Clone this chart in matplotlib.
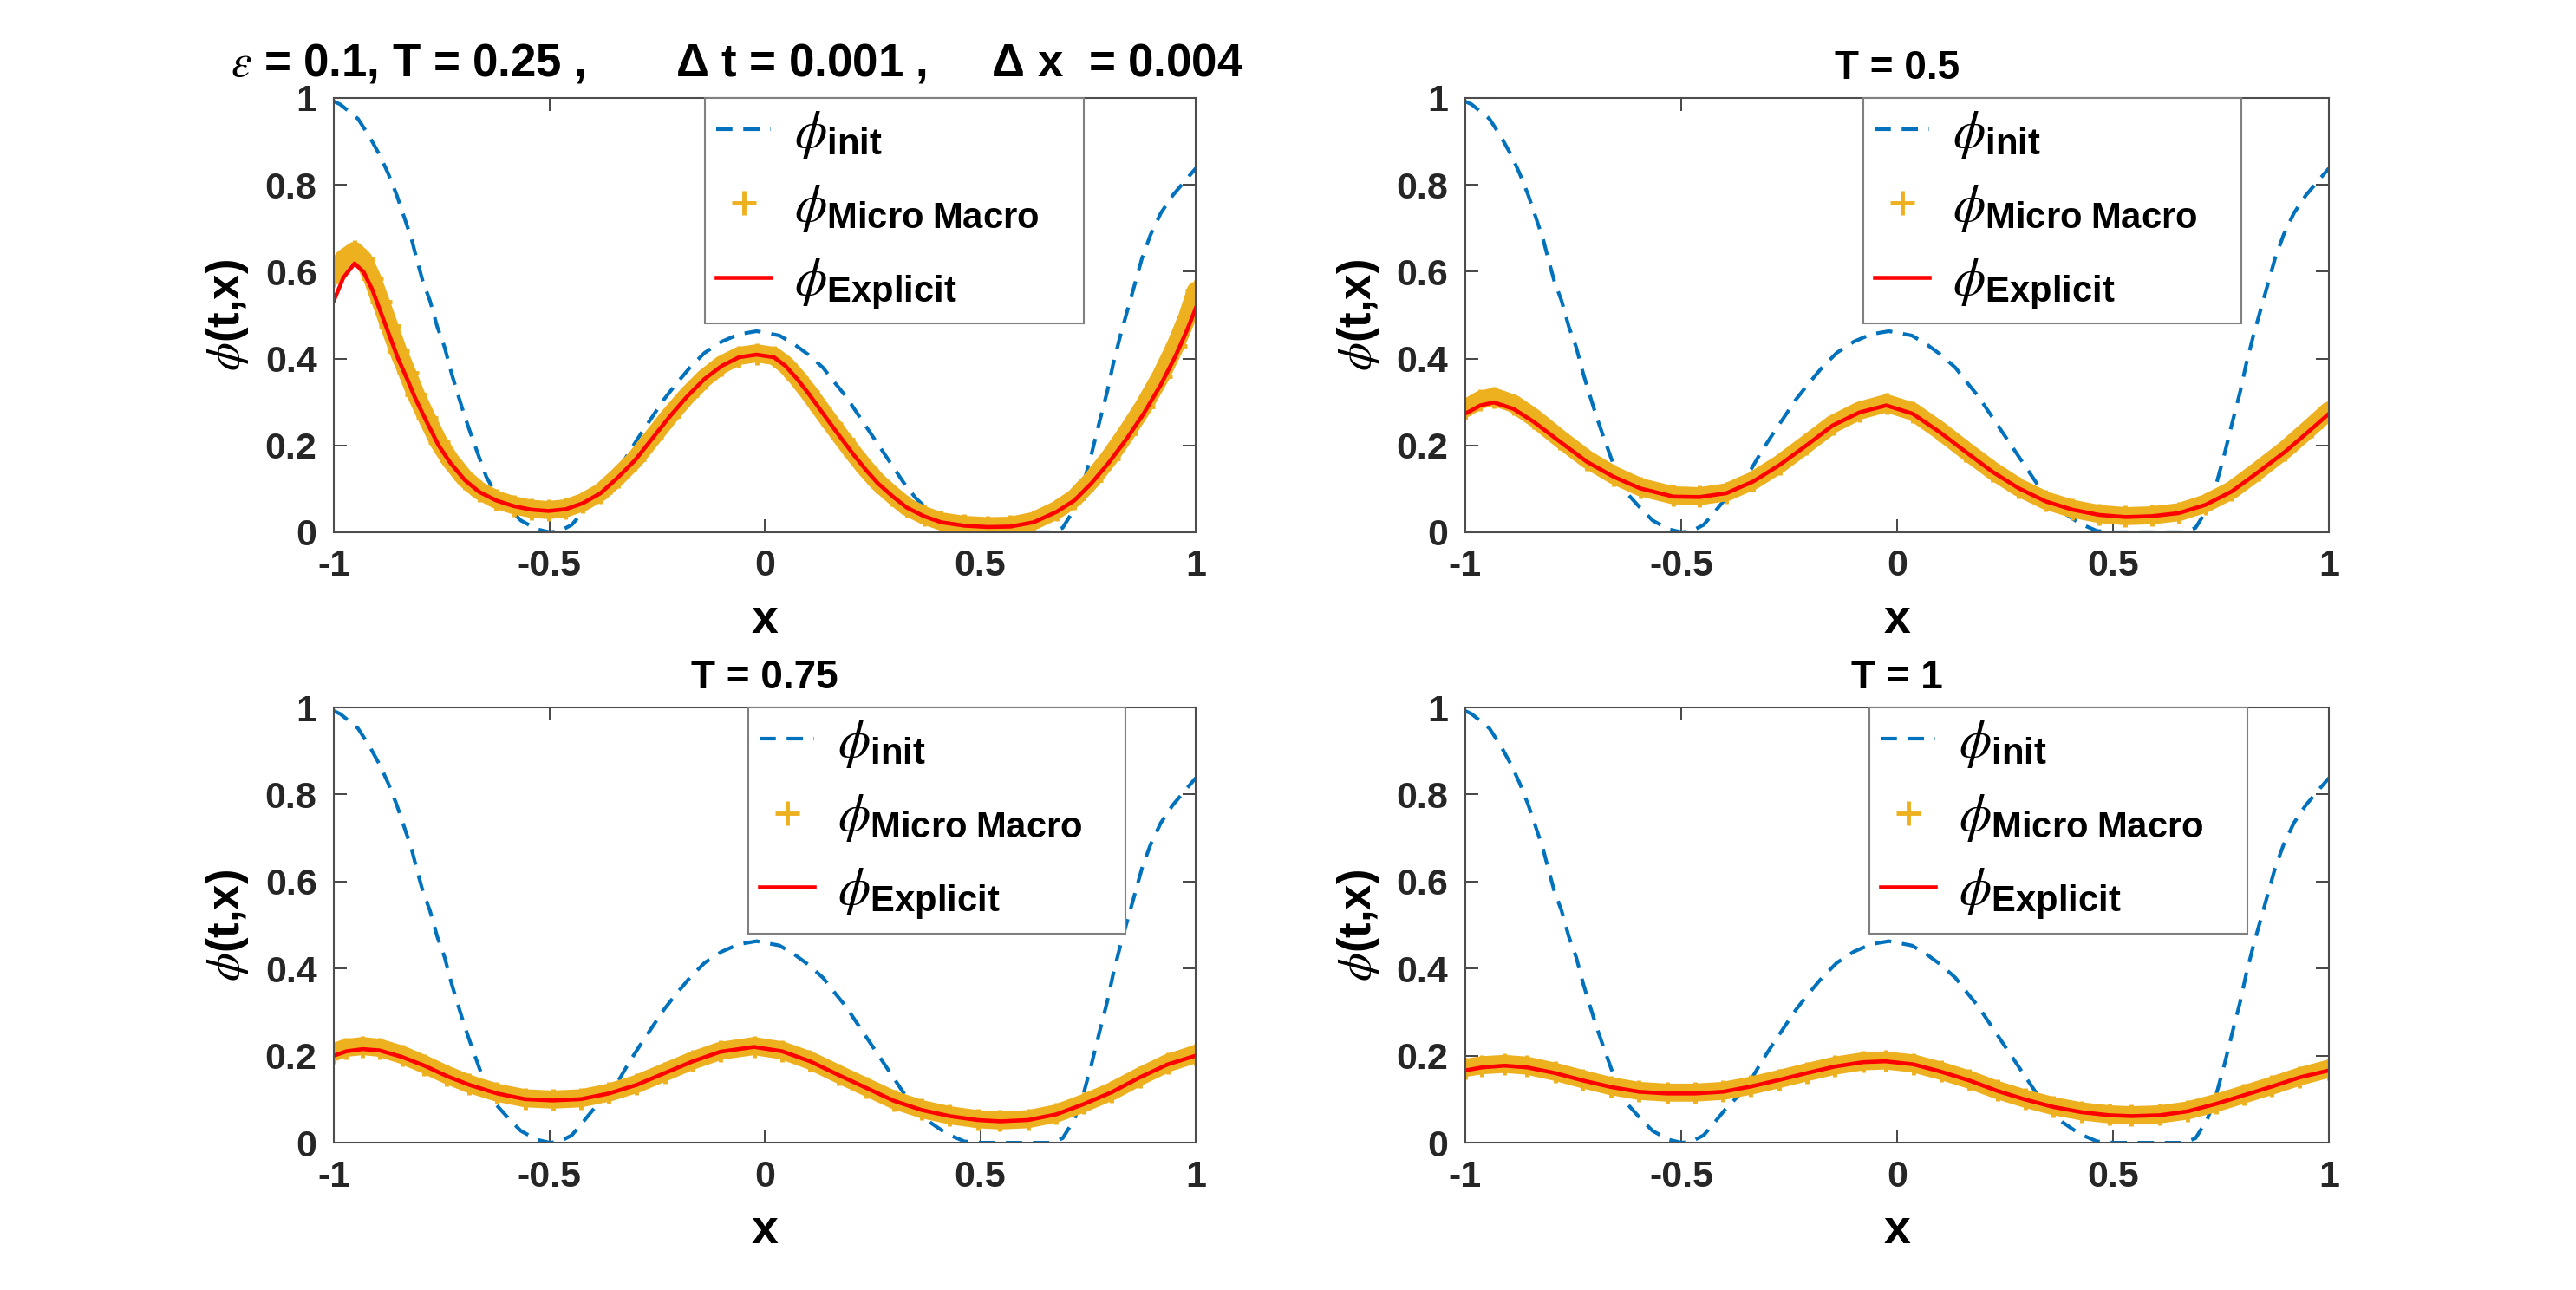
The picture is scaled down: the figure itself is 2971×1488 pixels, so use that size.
import matplotlib
matplotlib.use("Agg")
import matplotlib.pyplot as plt

plt.rcParams['font.family'] = ['Liberation Sans', 'DejaVu Sans']
plt.rcParams['axes.titleweight'] = 'bold'
plt.rcParams['axes.labelweight'] = 'bold'
plt.rcParams['mathtext.fontset'] = 'custom'
plt.rcParams['mathtext.rm'] = 'Liberation Sans:bold'
plt.rcParams['mathtext.bf'] = 'Liberation Sans:bold'
plt.rcParams['mathtext.it'] = 'STIXGeneral:italic'

# initial condition (same in every panel)
x_init = [-1.0, -0.985, -0.944, -0.918, -0.894, -0.874, -0.854, -0.837, -0.820, -0.807,
          -0.794, -0.777, -0.760, -0.743, -0.727, -0.713, -0.696, -0.680, -0.663, -0.646,
          -0.623, -0.592, -0.566, -0.529, -0.499, -0.475, -0.448, -0.428, -0.395, -0.368,
          -0.341, -0.314, -0.288, -0.261, -0.234, -0.207, -0.174, -0.140, -0.100, -0.060,
          -0.019, 0.034, 0.068, 0.101, 0.135, 0.161, 0.188, 0.215, 0.242, 0.269,
          0.296, 0.323, 0.349, 0.383, 0.423, 0.463, 0.503, 0.664, 0.691, 0.718,
          0.738, 0.758, 0.778, 0.795, 0.808, 0.825, 0.842, 0.859, 0.875, 0.895,
          0.919, 0.946, 0.980, 1.0]
y_init = [0.992, 0.985, 0.952, 0.912, 0.869, 0.826, 0.776, 0.726, 0.676, 0.626,
          0.579, 0.533, 0.473, 0.426, 0.366, 0.320, 0.266, 0.220, 0.173, 0.127,
          0.087, 0.053, 0.027, 0.007, 0.0, 0.003, 0.017, 0.040, 0.080, 0.107,
          0.140, 0.186, 0.226, 0.266, 0.306, 0.340, 0.379, 0.413, 0.439, 0.456,
          0.463, 0.453, 0.433, 0.409, 0.379, 0.346, 0.313, 0.273, 0.233, 0.193,
          0.153, 0.113, 0.080, 0.047, 0.020, 0.003, 0.0, 0.0, 0.010, 0.053,
          0.107, 0.180, 0.260, 0.326, 0.386, 0.453, 0.513, 0.573, 0.630, 0.685,
          0.735, 0.775, 0.815, 0.838]

# T = 0.25
x_t1 = [-1.0, -0.978, -0.952, -0.931, -0.911, -0.891, -0.871, -0.851, -0.830, -0.810,
        -0.784, -0.757, -0.730, -0.696, -0.663, -0.623, -0.582, -0.542, -0.502, -0.462,
        -0.422, -0.381, -0.341, -0.301, -0.261, -0.221, -0.180, -0.140, -0.100, -0.060,
        -0.019, 0.021, 0.048, 0.075, 0.101, 0.128, 0.155, 0.182, 0.208, 0.235,
        0.262, 0.296, 0.329, 0.369, 0.409, 0.463, 0.517, 0.570, 0.624, 0.677,
        0.718, 0.758, 0.798, 0.838, 0.879, 0.919, 0.953, 0.980, 1.0]
expl_t1 = [0.533, 0.586, 0.619, 0.599, 0.559, 0.506, 0.453, 0.400, 0.353, 0.306,
           0.253, 0.200, 0.160, 0.120, 0.093, 0.073, 0.060, 0.052, 0.049, 0.053,
           0.067, 0.090, 0.126, 0.166, 0.216, 0.266, 0.313, 0.353, 0.383, 0.403,
           0.409, 0.403, 0.383, 0.353, 0.320, 0.283, 0.246, 0.210, 0.176, 0.143,
           0.113, 0.083, 0.057, 0.037, 0.023, 0.015, 0.012, 0.013, 0.023, 0.047,
           0.073, 0.113, 0.160, 0.213, 0.273, 0.340, 0.406, 0.466, 0.516]
mm_t1 = [0.590, 0.630, 0.648, 0.628, 0.585, 0.530, 0.474, 0.418, 0.368, 0.318,
         0.263, 0.208, 0.166, 0.124, 0.096, 0.075, 0.062, 0.054, 0.051, 0.055,
         0.069, 0.092, 0.128, 0.168, 0.218, 0.268, 0.315, 0.355, 0.386, 0.406,
         0.412, 0.406, 0.386, 0.356, 0.323, 0.286, 0.249, 0.213, 0.179, 0.146,
         0.116, 0.086, 0.059, 0.039, 0.025, 0.017, 0.014, 0.015, 0.026, 0.051,
         0.078, 0.120, 0.170, 0.227, 0.290, 0.360, 0.430, 0.495, 0.556]

# T = 0.5
x_t2 = [-1.0, -0.965, -0.934, -0.888, -0.841, -0.780, -0.718, -0.657, -0.595, -0.518,
        -0.457, -0.395, -0.333, -0.272, -0.210, -0.149, -0.087, -0.025, 0.036, 0.098,
        0.159, 0.221, 0.282, 0.344, 0.406, 0.467, 0.529, 0.590, 0.652, 0.714,
        0.775, 0.837, 0.898, 0.960, 1.0]
expl_t2 = [0.273, 0.292, 0.299, 0.284, 0.254, 0.208, 0.162, 0.128, 0.101, 0.082,
           0.081, 0.090, 0.117, 0.155, 0.200, 0.246, 0.276, 0.292, 0.273, 0.231,
           0.185, 0.139, 0.101, 0.071, 0.052, 0.040, 0.035, 0.037, 0.044, 0.063,
           0.094, 0.139, 0.185, 0.238, 0.273]
mm_t2 = [0.285, 0.305, 0.312, 0.296, 0.264, 0.215, 0.168, 0.132, 0.104, 0.085,
         0.083, 0.092, 0.119, 0.157, 0.203, 0.249, 0.280, 0.297, 0.278, 0.235,
         0.188, 0.142, 0.103, 0.073, 0.054, 0.042, 0.037, 0.039, 0.046, 0.066,
         0.097, 0.143, 0.190, 0.244, 0.280]

# T = 0.75
x_t3 = [-1.0, -0.971, -0.933, -0.894, -0.842, -0.790, -0.738, -0.686, -0.621, -0.556,
        -0.492, -0.427, -0.362, -0.297, -0.232, -0.167, -0.103, -0.025, 0.040, 0.105,
        0.170, 0.235, 0.300, 0.364, 0.429, 0.494, 0.546, 0.611, 0.676, 0.741,
        0.805, 0.870, 0.935, 1.0]
expl_t3 = [0.200, 0.210, 0.215, 0.212, 0.197, 0.177, 0.153, 0.133, 0.113, 0.100,
           0.097, 0.100, 0.113, 0.133, 0.160, 0.187, 0.209, 0.220, 0.210, 0.187,
           0.156, 0.126, 0.096, 0.075, 0.061, 0.052, 0.049, 0.052, 0.065, 0.089,
           0.116, 0.150, 0.180, 0.200]
mm_t3 = [0.208, 0.218, 0.222, 0.218, 0.202, 0.180, 0.156, 0.135, 0.115, 0.102,
         0.099, 0.102, 0.115, 0.135, 0.162, 0.189, 0.211, 0.222, 0.212, 0.189,
         0.158, 0.128, 0.098, 0.077, 0.063, 0.054, 0.051, 0.054, 0.067, 0.091,
         0.118, 0.152, 0.183, 0.204]

# T = 1
x_t4 = [-1.0, -0.961, -0.909, -0.857, -0.792, -0.728, -0.663, -0.598, -0.533, -0.468,
        -0.403, -0.339, -0.274, -0.209, -0.144, -0.079, -0.027, 0.038, 0.102, 0.167,
        0.232, 0.297, 0.362, 0.427, 0.492, 0.543, 0.608, 0.673, 0.738, 0.803,
        0.868, 0.932, 1.0]
expl_t4 = [0.166, 0.173, 0.177, 0.173, 0.160, 0.143, 0.128, 0.117, 0.113, 0.113,
           0.117, 0.129, 0.144, 0.160, 0.175, 0.185, 0.187, 0.180, 0.163, 0.143,
           0.119, 0.099, 0.082, 0.070, 0.063, 0.061, 0.063, 0.072, 0.089, 0.109,
           0.129, 0.150, 0.166]
mm_t4 = [0.172, 0.178, 0.181, 0.177, 0.163, 0.146, 0.130, 0.119, 0.115, 0.115,
         0.119, 0.131, 0.146, 0.162, 0.177, 0.187, 0.189, 0.182, 0.165, 0.145,
         0.121, 0.101, 0.084, 0.072, 0.065, 0.063, 0.065, 0.074, 0.091, 0.111,
         0.131, 0.152, 0.170]

titles = [r'$\epsilon$ = 0.1, T = 0.25 ,' + ' ' * 7 + 'Δ t = 0.001 ,' + ' ' * 5 + 'Δ x  = 0.004',
          'T = 0.5', 'T = 0.75', 'T = 1']
xticks = [-1, -0.5, 0, 0.5, 1]
xtick_labels = ['-1', '-0.5', '0', '0.5', '1']
yticks = [0, 0.2, 0.4, 0.6, 0.8, 1]
ytick_labels = ['0', '0.2', '0.4', '0.6', '0.8', '1']

panels = [(x_t1, mm_t1, expl_t1), (x_t2, mm_t2, expl_t2),
          (x_t3, mm_t3, expl_t3), (x_t4, mm_t4, expl_t4)]
axes_pos = [[0.1296, 0.5874, 0.3346, 0.3367], [0.5688, 0.5874, 0.3353, 0.3367],
            [0.1296, 0.1142, 0.3346, 0.3374], [0.5688, 0.1142, 0.3353, 0.3374]]
legend_box = [(0.4306, 0.4396), (0.461, 0.438), (0.481, 0.4375), (0.468, 0.438)]

blue = '#0072BD'
orange = '#EDB120'
red = '#FF0000'

fig = plt.figure(figsize=(29.71, 14.88), dpi=100)

for i in range(4):
    xs, mm, expl = panels[i]
    ax = fig.add_axes(axes_pos[i])
    h1, = ax.plot(x_init, y_init, color=blue, lw=3.0, dashes=(4.5, 3.0))
    ax.plot(xs, mm, color=orange, lw=15, solid_capstyle='round')
    h2, = ax.plot(xs, mm, '+', color=orange, ms=20, mew=3.5)
    h3, = ax.plot(xs, expl, color=red, lw=3.3)

    ax.set_xlim(-1, 1)
    ax.set_ylim(0, 1)
    ax.set_xticks(xticks)
    ax.set_xticklabels(xtick_labels, fontweight='bold')
    ax.set_yticks(yticks)
    ax.set_yticklabels(ytick_labels, fontweight='bold')
    ax.tick_params(direction='in', length=11, width=1.2, top=True, right=True,
                   labelsize=31, pad=14, colors='#262626')
    for s in ax.spines.values():
        s.set_color('#4d4d4d')
        s.set_linewidth(1.5)

    ax.set_xlabel('x', fontsize=40, labelpad=12)
    ax.set_ylabel(r'$\phi$(t,x)', fontsize=38, labelpad=12)
    if i == 0:
        ax.set_title(titles[i], fontsize=38, pad=18, x=0.468)
    else:
        ax.set_title(titles[i], fontsize=33, pad=16)

    x0, w = legend_box[i]
    leg = ax.legend([h1, h2, h3],
                    [r'$\phi_{\mathbf{init}}$', r'$\phi_{\mathbf{Micro\ Macro}}$',
                     r'$\phi_{\mathbf{Explicit}}$'],
                    loc='upper left', bbox_to_anchor=(x0, 0, w, 1.0), mode='expand',
                    borderaxespad=0, fontsize=43, handlelength=1.05, handletextpad=0.45,
                    borderpad=0.22, labelspacing=0.44, fancybox=False, framealpha=1,
                    edgecolor='#808080')
    leg.get_frame().set_linewidth(1.5)
    h2.set_markersize(18)

fig.savefig('out.png', dpi=100)
